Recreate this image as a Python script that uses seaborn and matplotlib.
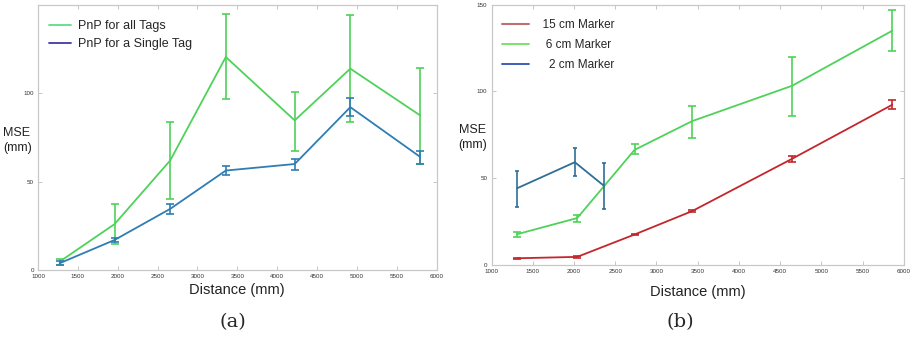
import numpy as np
import pandas as pd
import matplotlib
matplotlib.use("Agg")
import matplotlib.pyplot as plt
import seaborn as sns
from matplotlib.lines import Line2D

# (a) PnP comparison
dist_a = [1271, 1961, 2658, 3356, 4220, 4918, 5795]
all_tags = [4.7, 26, 62, 120.6, 84.7, 114, 87.5]
all_tags_lo = [3.0, 14.6, 40, 96.8, 67.5, 84, 60]
all_tags_hi = [6.0, 37.6, 84, 144.8, 101, 144.6, 114.6]
single_tag = [3.8, 17, 34.6, 56.3, 60, 92.2, 64]
single_tag_lo = [2.6, 16, 31.8, 53.9, 56.7, 87, 60]
single_tag_hi = [5.0, 18, 37.4, 59, 62.8, 97.4, 67.5]

# (b) marker sizes
dist_15 = [1311, 2039, 2734, 3433, 4646, 5859]
m15 = [3.8, 4.6, 17.5, 31, 61.2, 92.3]
m15_lo = [3.4, 4.0, 17.0, 30.5, 59.6, 90]
m15_hi = [4.2, 5.2, 18.0, 31.5, 63, 95.2]
dist_6 = [1311, 2039, 2734, 3433, 4646, 5859]
m6 = [17.7, 27, 66.3, 82.9, 103.3, 135]
m6_lo = [16.3, 25, 64, 73, 86, 123.5]
m6_hi = [18.8, 28.7, 69.6, 91.7, 119.8, 146.7]
dist_2 = [1311, 2010, 2358]
m2 = [44.2, 59.2, 45.8]
m2_lo = [33.3, 51, 32.3]
m2_hi = [54.2, 67.3, 58.7]

sns.set_theme(style="white")
plt.rcParams['font.family'] = ['Liberation Sans', 'DejaVu Sans']

fig = plt.figure(figsize=(9.12, 3.40), dpi=100)
ax1 = fig.add_axes([0.0417, 0.206, 0.437, 0.779])
ax2 = fig.add_axes([0.539, 0.221, 0.452, 0.765])


def draw(ax, x, y, lo, hi, color, capsize, label):
    df = pd.DataFrame({'Distance': x, 'MSE': y})
    sns.lineplot(data=df, x='Distance', y='MSE', ax=ax, color=color, lw=1.3, label=label)
    yerr = [np.array(y) - np.array(lo), np.array(hi) - np.array(y)]
    ax.errorbar(x, y, yerr=yerr, fmt='none', ecolor=color, elinewidth=1.2,
                capsize=capsize, capthick=1.2)


green = '#4fd25a'
draw(ax1, dist_a, all_tags, all_tags_lo, all_tags_hi, green, 3, 'PnP for all Tags')
draw(ax1, dist_a, single_tag, single_tag_lo, single_tag_hi, '#2f7db2', 3, 'PnP for a Single Tag')

draw(ax2, dist_15, m15, m15_lo, m15_hi, '#c4262c', 3, '15 cm Marker')
draw(ax2, dist_6, m6, m6_lo, m6_hi, green, 3, '6 cm Marker')
draw(ax2, dist_2, m2, m2_lo, m2_hi, '#2f6e95', 1.2, '2 cm Marker')

for ax, yt, lp in [(ax1, [0, 50, 100], 3), (ax2, [0, 50, 100, 150], 8)]:
    ax.set_xlim(1000, 6000)
    ax.set_ylim(0, 150)
    ax.set_xticks(range(1000, 6001, 500))
    ax.set_yticks(yt)
    ax.tick_params(direction='in', length=3, width=0.6, color='#bbbbbb',
                   labelsize=4.5, pad=3, top=True, right=True,
                   bottom=True, left=True, labelcolor='#333333')
    for s in ax.spines.values():
        s.set_color('#c8c8c8')
        s.set_linewidth(0.9)
    ax.set_ylabel('')
    ax.set_xlabel('Distance (mm)', fontsize=10.5, labelpad=lp, color='#222222')

ax1.text(-0.088, 0.49, 'MSE\n(mm)', transform=ax1.transAxes, fontsize=9,
         ha='left', va='center', color='#222222', linespacing=1.35)
ax2.text(-0.08, 0.49, 'MSE\n(mm)', transform=ax2.transAxes, fontsize=9,
         ha='left', va='center', color='#222222', linespacing=1.35)

h1 = [Line2D([], [], color='#5fdc86', lw=1.3), Line2D([], [], color='#3f3aa0', lw=1.3)]
ax1.legend(h1, ['PnP for all Tags', 'PnP for a Single Tag'], loc='upper left',
           frameon=False, fontsize=9, handlelength=1.7, handletextpad=0.6,
           labelspacing=0.45, borderaxespad=0.5, bbox_to_anchor=(0.0, 0.985))
h2 = [Line2D([], [], color='#c07070', lw=1.5), Line2D([], [], color='#6ee060', lw=1.3),
      Line2D([], [], color='#3050b0', lw=1.3)]
ax2.legend(h2, ['  15 cm Marker', '   6 cm Marker', '    2 cm Marker'], loc='upper left',
           frameon=False, fontsize=8.5, handlelength=2.3, handletextpad=0.6,
           labelspacing=0.65, borderaxespad=0.5, bbox_to_anchor=(0.0, 0.985))

fig.text(233 / 912, 1 - 322 / 340, '(a)', ha='center', va='center', fontsize=14,
         family=['DejaVu Serif'])
fig.text(680 / 912, 1 - 322 / 340, '(b)', ha='center', va='center', fontsize=14,
         family=['DejaVu Serif'])

fig.savefig('out.png', dpi=100)
